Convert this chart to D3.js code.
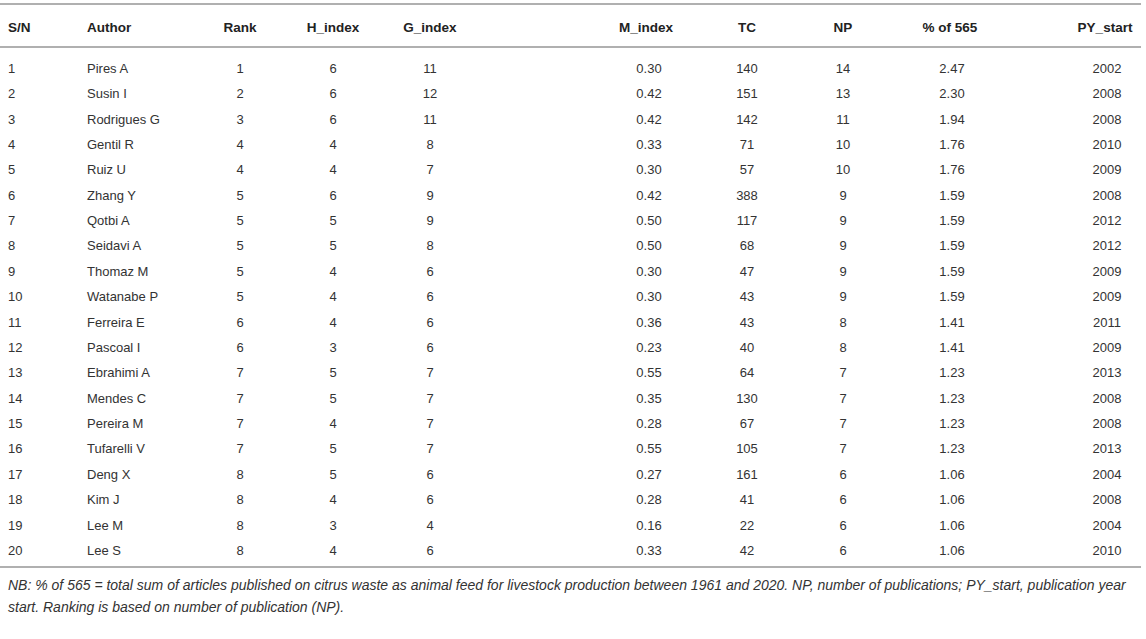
<!DOCTYPE html>
<html>
<head>
<meta charset="utf-8">
<script src="https://cdn.jsdelivr.net/npm/d3@7"></script>
<style>
  body { margin: 0; background: #fff; }
  text { font-family: "Liberation Sans", Arial, sans-serif; }
</style>
</head>
<body>
<div id="chart"></div>
<script>
const headers = ["S/N", "Author", "Rank", "H_index", "G_index", "M_index", "TC", "NP", "% of 565", "PY_start"];
const sn = d3.range(1, 21);
const authors = ["Pires A", "Susin I", "Rodrigues G", "Gentil R", "Ruiz U", "Zhang Y", "Qotbi A", "Seidavi A", "Thomaz M", "Watanabe P",
  "Ferreira E", "Pascoal I", "Ebrahimi A", "Mendes C", "Pereira M", "Tufarelli V", "Deng X", "Kim J", "Lee M", "Lee S"];
const rank = [1, 2, 3, 4, 4, 5, 5, 5, 5, 5, 6, 6, 7, 7, 7, 7, 8, 8, 8, 8];
const hIndex = [6, 6, 6, 4, 4, 6, 5, 5, 4, 4, 4, 3, 5, 5, 4, 5, 5, 4, 3, 4];
const gIndex = [11, 12, 11, 8, 7, 9, 9, 8, 6, 6, 6, 6, 7, 7, 7, 7, 6, 6, 4, 6];
const mIndex = ["0.30", "0.42", "0.42", "0.33", "0.30", "0.42", "0.50", "0.50", "0.30", "0.30",
  "0.36", "0.23", "0.55", "0.35", "0.28", "0.55", "0.27", "0.28", "0.16", "0.33"];
const tc = [140, 151, 142, 71, 57, 388, 117, 68, 47, 43, 43, 40, 64, 130, 67, 105, 161, 41, 22, 42];
const np = [14, 13, 11, 10, 10, 9, 9, 9, 9, 9, 8, 8, 7, 7, 7, 7, 6, 6, 6, 6];
const pct = ["2.47", "2.30", "1.94", "1.76", "1.76", "1.59", "1.59", "1.59", "1.59", "1.59",
  "1.41", "1.41", "1.23", "1.23", "1.23", "1.23", "1.06", "1.06", "1.06", "1.06"];
const pyStart = [2002, 2008, 2008, 2010, 2009, 2008, 2012, 2012, 2009, 2009, 2011, 2009, 2013, 2008, 2008, 2013, 2004, 2008, 2004, 2010];
const footnote = [
  "NB: % of 565 = total sum of articles published on citrus waste as animal feed for livestock production between 1961 and 2020. NP, number of publications; PY_start, publication year",
  "start. Ranking is based on number of publication (NP)."
];

const columns = [sn, authors, rank, hIndex, gIndex, mIndex, tc, np, pct, pyStart];
const rows = sn.map((d, i) => columns.map(c => c[i]));

const width = 1146, height = 639;
const svg = d3.select("#chart").append("svg")
  .attr("width", width)
  .attr("height", height);

// column anchors: [header x, value x, anchor]
const colX = [
  [8, 8, "start"], [87, 87, "start"], [240, 240, "middle"], [333, 333, "middle"], [430, 430, "middle"],
  [646, 649, "middle"], [747, 747, "middle"], [843, 843, "middle"], [950, 952, "middle"], [1105, 1107, "middle"]
];

const y = d3.scaleBand()
  .domain(sn)
  .range([55.5, 563])
  .paddingInner(0);

const lineColor = "#b0b0b0";
[4, 47, 567].forEach(ly => {
  svg.append("line")
    .attr("x1", 0).attr("x2", 1141)
    .attr("y1", ly).attr("y2", ly)
    .attr("stroke", lineColor)
    .attr("stroke-width", 2);
});

svg.append("g").selectAll("text")
  .data(headers)
  .join("text")
  .attr("x", (d, i) => colX[i][0])
  .attr("y", 27)
  .attr("dy", "0.35em")
  .attr("text-anchor", (d, i) => colX[i][2])
  .attr("font-size", 13.5)
  .attr("font-weight", "bold")
  .attr("fill", "#222")
  .text(d => d);

const rowG = svg.append("g").selectAll("g")
  .data(rows)
  .join("g")
  .attr("transform", (d, i) => `translate(0,${y(sn[i]) + y.bandwidth() / 2})`);

rowG.selectAll("text")
  .data(d => d)
  .join("text")
  .attr("x", (d, i) => colX[i][1])
  .attr("dy", "0.35em")
  .attr("text-anchor", (d, i) => colX[i][2])
  .attr("font-size", 13)
  .attr("fill", "#333")
  .text(d => d);

svg.append("g").selectAll("text")
  .data(footnote)
  .join("text")
  .attr("x", 8)
  .attr("y", (d, i) => 585 + i * 22)
  .attr("dy", "0.35em")
  .attr("font-size", 14)
  .attr("font-style", "italic")
  .attr("fill", "#333")
  .text(d => d);
</script>
</body>
</html>
